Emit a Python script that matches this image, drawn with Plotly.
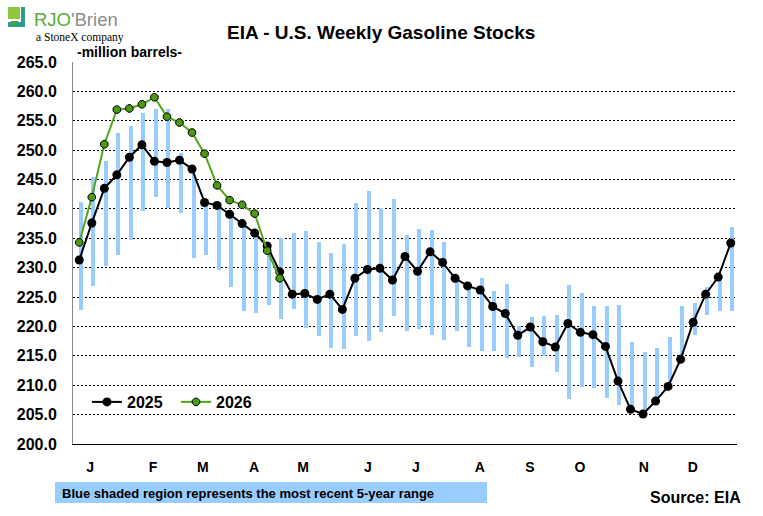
import plotly.graph_objects as go

weeks = list(range(1, 54))
month_ticks = [1.86, 6.88, 10.87, 14.95, 18.86, 24.04, 27.87, 32.98, 36.97, 40.96, 46.07, 49.98]
month_labels = ["J", "F", "M", "A", "M", "J", "J", "A", "S", "O", "N", "D"]

stocks_2025 = [231.3, 237.6, 243.5, 245.8, 248.8, 250.9, 248.1, 247.9, 248.3, 246.8,
               241.1, 240.6, 239.1, 237.5, 235.9, 233.7, 229.3, 225.5, 225.6, 224.6,
               225.5, 222.9, 228.2, 229.7, 229.9, 227.9, 231.9, 229.4, 232.7, 230.9,
               228.2, 226.9, 226.2, 223.4, 222.2, 218.5, 219.9, 217.4, 216.5, 220.5,
               219.0, 218.6, 216.6, 210.7, 205.9, 205.1, 207.3, 209.8, 214.4, 220.7,
               225.5, 228.4, 234.2]
stocks_2026 = [234.3, 242.0, 251.0, 256.9, 257.1, 257.8, 259.0, 255.7, 254.7, 253.0,
               249.4, 244.0, 241.5, 240.7, 239.2, 232.9, 228.2]

range_high = [241.1, 245.4, 248.1, 252.9, 254.1, 256.3, 257.0, 257.0, 249.5, 246.0,
              240.5, 240.0, 238.6, 237.1, 235.4, 233.5, 235.1, 235.9, 236.3, 234.4,
              232.5, 234.0, 241.0, 243.0, 240.2, 241.7, 235.6, 236.6, 236.4, 234.3,
              228.6, 227.2, 228.3, 226.1, 227.3, 220.0, 221.6, 221.8, 222.0, 227.1,
              225.7, 223.5, 223.4, 223.6, 217.3, 215.7, 216.4, 218.2, 223.5, 224.0,
              226.8, 227.7, 237.0]
range_low = [222.8, 226.9, 230.3, 232.1, 234.7, 239.6, 242.0, 240.1, 239.3, 231.6,
             232.1, 229.6, 226.7, 222.6, 222.3, 223.6, 221.3, 223.0, 219.7, 218.4,
             216.4, 216.1, 218.4, 217.5, 219.0, 221.8, 219.2, 219.6, 218.5, 217.7,
             219.3, 216.5, 215.9, 215.9, 214.7, 214.8, 213.1, 214.9, 212.3, 207.6,
             209.7, 209.5, 207.9, 206.7, 205.6, 205.0, 208.0, 210.5, 215.2, 218.6,
             222.0, 222.7, 222.7]

# plot-area pixel geometry
W, H = 763, 516
L, R, T, B = 73, 737, 62, 444


def px(x):
    return (x - L) / (R - L)


def py(y):
    return (B - y) / (B - T)


FONT = "Liberation Sans, Arial, sans-serif"

fig = go.Figure()

fig.add_trace(go.Bar(
    x=weeks,
    y=[h - l for h, l in zip(range_high, range_low)],
    base=range_low,
    width=0.32,
    offset=-0.04,
    marker=dict(color="#99CCFF", line=dict(width=0)),
    showlegend=False,
    hoverinfo="skip",
))

fig.add_trace(go.Scatter(
    x=weeks, y=stocks_2025, name="2025", mode="lines+markers",
    line=dict(color="black", width=2),
    marker=dict(symbol="circle", size=9, color="black"),
))

fig.add_trace(go.Scatter(
    x=weeks[:len(stocks_2026)], y=stocks_2026, name="2026", mode="lines+markers",
    line=dict(color="#55A51B", width=2),
    marker=dict(symbol="octagon", size=8, color="#4A9A10",
                line=dict(color="black", width=1)),
))

fig.update_layout(
    width=W, height=H,
    margin=dict(l=L, r=W - R, t=T, b=H - B, pad=0),
    paper_bgcolor="white", plot_bgcolor="white",
    font=dict(family=FONT, color="black"),
    showlegend=True,
    legend=dict(
        orientation="h", x=px(87), y=py(402), xanchor="left", yanchor="middle",
        bgcolor="rgba(0,0,0,0)", font=dict(size=16, weight="bold", family=FONT),
        itemwidth=30, tracegroupgap=0, entrywidth=44,
    ),
    bargap=0,
)

fig.update_xaxes(
    range=[0.5, 53.5],
    tickmode="array", tickvals=month_ticks, ticktext=month_labels,
    tickfont=dict(size=14, weight="bold", family=FONT),
    showgrid=False, zeroline=False,
    showline=True, linecolor="black", linewidth=1,
    ticks="", ticklabelstandoff=10,
)

fig.update_yaxes(
    range=[200, 265], dtick=5, tick0=200, tickformat=".1f",
    tickfont=dict(size=16, weight="bold", family=FONT),
    showgrid=True, gridcolor="black", gridwidth=1, griddash="2px,2px",
    zeroline=False,
    showline=True, linecolor="#888888", linewidth=1,
    ticks="", ticklabelstandoff=12,
)

annotations = [
    dict(text="<b>EIA - U.S. Weekly Gasoline Stocks</b>", x=px(381), y=py(32),
         xanchor="center", yanchor="middle", font=dict(size=19, family=FONT)),
    dict(text="<b>-million barrels-</b>", x=px(75), y=py(52),
         xanchor="left", yanchor="middle", font=dict(size=14, family=FONT)),
    dict(text="<b>Blue shaded region represents the most recent 5-year range</b>",
         x=px(60), y=py(493), xanchor="left", yanchor="middle",
         font=dict(size=13, family=FONT)),
    dict(text="<b>Source: EIA</b>", x=px(743), y=py(497),
         xanchor="right", yanchor="middle", font=dict(size=16, family=FONT)),
    dict(text="<span style='color:#5BAA3C'>RJO</span><span style='color:#8C8C8C'>'Brien</span>",
         x=px(32), y=py(19), xanchor="left", yanchor="middle",
         font=dict(size=18.5, family=FONT)),
    dict(text="a StoneX company", x=px(34), y=py(38), xanchor="left", yanchor="middle",
         font=dict(size=11.5, family="Liberation Serif, Times New Roman, serif", color="black")),
]
for a in annotations:
    a.update(xref="paper", yref="paper", showarrow=False)
fig.update_layout(annotations=annotations)

shapes = [
    # footnote box
    dict(type="rect", x0=px(55), x1=px(487), y0=py(503), y1=py(482),
         fillcolor="#99CCFF", line=dict(width=0), layer="below"),
    # logo icon
    dict(type="rect", x0=px(8), x1=px(20), y0=py(19), y1=py(7),
         fillcolor="#8DC63F", line=dict(width=0)),
    dict(type="rect", x0=px(21), x1=px(25), y0=py(27), y1=py(7),
         fillcolor="#2E9C86", line=dict(width=0)),
    dict(type="rect", x0=px(8), x1=px(25), y0=py(27), y1=py(22),
         fillcolor="#2E9C86", line=dict(width=0)),
    dict(type="path", path=f"M {px(11)},{py(21)} L {px(19)},{py(21)} L {px(11)},{py(26)} Z",
         fillcolor="#4E9F3D", line=dict(width=0)),
]
for s in shapes:
    s.update(xref="paper", yref="paper")
fig.update_layout(shapes=shapes)

fig.write_html("out.html")
